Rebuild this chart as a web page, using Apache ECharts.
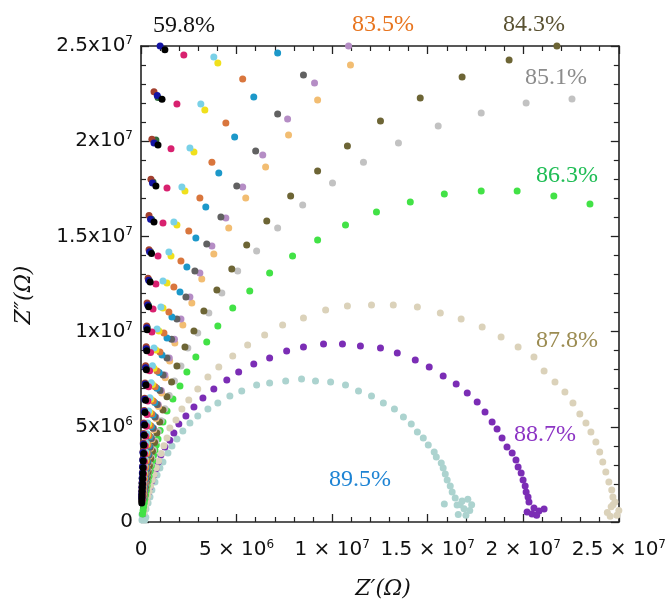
<!DOCTYPE html>
<html>
<head>
<meta charset="utf-8">
<script src="https://cdn.jsdelivr.net/npm/echarts@6/dist/echarts.min.js"></script>
<style>
html,body{margin:0;padding:0;background:#fff;}
#chart{width:669px;height:601px;}
</style>
</head>
<body>
<div id="chart"></div>
<script>
// Values in units of 1e6 Ohm: [Z', Z'']
const xTickLabels = [['0',''],['5 × 10','6'],['1 × 10','7'],['1.5 × 10','7'],['2 × 10','7'],['2.5 × 10','7']];
const yTickLabels = [['0',''],['5x10','6'],['1x10','7'],['1.5x10','7'],['2x10','7'],['2.5x10','7']];
const pctLabels = ['59.8%','83.5%','84.3%','85.1%','86.3%','87.8%','88.7%','89.5%'];

const sBlack = [[1.25,24.8],[1.1,22.2],[0.89,19.8],[0.78,17.65],[0.68,15.75],[0.55,14.1],[0.48,12.6],[0.4,11.3],[0.32,10.1],[0.3,9.0],[0.28,8.0],[0.26,7.2],[0.24,6.4],[0.21,5.75],[0.19,5.1],[0.17,4.55],[0.15,4.05],[0.14,3.6],[0.12,3.2],[0.11,2.85],[0.1,2.55],[0.09,2.27],[0.08,2.0],[0.07,1.8],[0.06,1.6],[0.05,1.42],[0.05,1.27],[0.04,1.13],[0.04,1.0]];
const sDarkBlue = [[1.0,25.0],[0.85,22.4],[0.68,19.9],[0.6,17.8],[0.5,15.9],[0.45,14.2],[0.4,12.7],[0.35,11.4],[0.3,10.2],[0.27,9.1],[0.24,8.1],[0.21,7.25],[0.19,6.45],[0.17,5.8],[0.15,5.15],[0.13,4.6],[0.12,4.1],[0.1,3.65],[0.09,3.25],[0.08,2.9],[0.07,2.58],[0.06,2.3],[0.06,2.03],[0.05,1.82],[0.05,1.62],[0.04,1.44],[0.04,1.28]];
const sDarkRed = [[0.68,22.6],[0.57,20.1],[0.52,18.0],[0.42,16.1],[0.42,14.3],[0.37,12.8],[0.32,11.5],[0.3,10.3],[0.27,9.2],[0.24,8.2],[0.21,7.3],[0.19,6.5],[0.17,5.85],[0.15,5.2],[0.14,4.65],[0.12,4.15],[0.11,3.7],[0.1,3.3],[0.09,2.93],[0.08,2.6],[0.07,2.33],[0.06,2.07],[0.05,1.85],[0.05,1.65],[0.04,1.47],[0.04,1.3]];
const sDarkGreen = [[0.89,22.3],[0.78,20.06],[0.63,17.86],[0.55,15.9],[0.5,14.2],[0.43,12.7],[0.38,11.4],[0.33,10.2],[0.3,9.1],[0.27,8.1],[0.24,7.25],[0.21,6.45],[0.19,5.8],[0.17,5.15],[0.15,4.6],[0.13,4.1],[0.12,3.65],[0.1,3.25],[0.09,2.9],[0.08,2.58],[0.07,2.3],[0.06,2.04],[0.06,1.82],[0.05,1.62],[0.05,1.44],[0.04,1.28]];
const sPink = [[2.24,24.53],[1.88,21.95],[1.57,19.6],[1.36,17.54],[1.15,15.7],[0.89,13.97],[0.78,12.5],[0.63,11.19],[0.57,9.98],[0.5,8.9],[0.45,7.95],[0.4,7.1],[0.36,6.35],[0.32,5.65],[0.28,5.03],[0.25,4.5],[0.22,4.0],[0.2,3.57],[0.18,3.18],[0.16,2.83],[0.14,2.52],[0.12,2.25],[0.11,2.0],[0.1,1.78],[0.09,1.59],[0.08,1.41],[0.07,1.26],[0.06,1.12]];
const sLightCyan = [[3.81,24.42],[3.13,21.95],[2.56,19.64],[2.14,17.6],[1.72,15.76],[1.46,14.18],[1.15,12.66],[1.04,11.29],[0.84,10.14],[0.68,9.14],[0.6,8.2],[0.53,7.32],[0.46,6.53],[0.4,5.83],[0.35,5.2],[0.31,4.63],[0.27,4.13],[0.24,3.68],[0.21,3.28],[0.18,2.92],[0.16,2.6],[0.14,2.32],[0.12,2.06],[0.11,1.84],[0.1,1.64],[0.09,1.46],[0.08,1.3]];
const sYellow = [[4.02,24.11],[3.34,21.64],[2.77,19.43],[2.3,17.38],[1.88,15.6],[1.57,13.97],[1.36,12.55],[1.15,11.24],[0.94,10.03],[0.78,9.03],[0.68,8.08],[0.6,7.22],[0.52,6.45],[0.46,5.76],[0.4,5.14],[0.35,4.58],[0.31,4.08],[0.27,3.64],[0.24,3.24],[0.21,2.89],[0.18,2.58],[0.16,2.3],[0.14,2.05],[0.12,1.83],[0.11,1.63],[0.1,1.45],[0.09,1.29]];
const sOrange = [[5.32,23.27],[4.44,20.96],[3.71,18.9],[3.08,17.02],[2.5,15.28],[2.09,13.71],[1.72,12.34],[1.46,11.03],[1.2,9.93],[0.99,8.93],[0.84,7.93],[0.74,7.1],[0.64,6.35],[0.56,5.68],[0.49,5.07],[0.43,4.53],[0.37,4.04],[0.33,3.6],[0.29,3.21],[0.25,2.86],[0.22,2.55],[0.19,2.27],[0.17,2.02],[0.15,1.8],[0.13,1.6],[0.12,1.43],[0.1,1.27]];
const sTealBlue = [[7.15,24.63],[5.9,22.32],[4.9,20.22],[4.07,18.33],[3.39,16.54],[2.87,14.92],[2.4,13.39],[2.04,12.08],[1.62,10.77],[1.36,9.66],[1.1,8.77],[0.95,7.85],[0.83,7.02],[0.72,6.28],[0.63,5.62],[0.55,5.02],[0.48,4.48],[0.42,4.0],[0.37,3.57],[0.32,3.18],[0.28,2.84],[0.25,2.53],[0.22,2.26],[0.19,2.01],[0.17,1.79],[0.15,1.6],[0.13,1.42],[0.12,1.27]];
const sDarkGray = [[8.5,23.48],[7.15,21.43],[6.0,19.49],[5.01,17.65],[4.18,16.02],[3.44,14.6],[2.82,13.18],[2.35,11.82],[1.88,10.66],[1.6,9.6],[1.36,8.62],[1.16,7.72],[0.99,6.9],[0.85,6.17],[0.73,5.51],[0.63,4.92],[0.54,4.39],[0.47,3.92],[0.41,3.5],[0.35,3.12],[0.31,2.78],[0.27,2.48],[0.23,2.21],[0.2,1.97],[0.18,1.76],[0.16,1.57],[0.14,1.4],[0.12,1.25]];
const sLavender = [[10.86,25.0],[9.08,23.06],[7.67,21.17],[6.37,19.28],[5.32,17.6],[4.44,15.97],[3.71,14.5],[3.08,13.08],[2.56,11.82],[2.09,10.66],[1.75,9.6],[1.48,8.62],[1.25,7.72],[1.06,6.9],[0.9,6.17],[0.77,5.51],[0.66,4.92],[0.56,4.39],[0.48,3.92],[0.42,3.5],[0.36,3.12],[0.31,2.78],[0.27,2.48],[0.24,2.21],[0.21,1.97],[0.18,1.76],[0.16,1.57],[0.14,1.4]];
const sLightOrange = [[10.96,24.0],[9.24,22.16],[7.72,20.33],[6.52,18.64],[5.48,17.02],[4.59,15.44],[3.81,14.08],[3.18,12.76],[2.66,11.5],[2.19,10.35],[1.77,9.4],[1.5,8.45],[1.27,7.58],[1.08,6.78],[0.92,6.07],[0.79,5.43],[0.67,4.85],[0.58,4.33],[0.5,3.87],[0.43,3.45],[0.37,3.08],[0.32,2.75],[0.28,2.45],[0.24,2.18],[0.21,1.95],[0.18,1.74],[0.16,1.55],[0.14,1.38]];
const sOlive = [[21.76,25.0],[19.26,24.26],[16.8,23.37],[14.61,22.27],[12.53,21.06],[10.8,19.75],[9.24,18.43],[7.83,17.12],[6.58,15.81],[5.53,14.55],[4.75,13.29],[3.97,12.18],[3.29,11.08],[2.77,10.03],[2.3,9.19],[1.88,8.19],[1.6,7.35],[1.36,6.58],[1.15,5.88],[0.98,5.25],[0.83,4.68],[0.71,4.17],[0.6,3.72],[0.51,3.32],[0.44,2.96],[0.38,2.64],[0.33,2.35],[0.28,2.1],[0.24,1.87],[0.21,1.67],[0.18,1.49],[0.16,1.33]];
const sLightGray = [[22.55,22.22],[20.15,22.0],[17.8,21.48],[15.55,20.8],[13.47,19.9],[11.64,18.9],[10.02,17.8],[8.46,16.65],[7.15,15.44],[6.05,14.23],[5.06,13.18],[4.23,12.03],[3.55,10.98],[2.97,9.93],[2.45,9.14],[2.09,8.19],[1.75,7.4],[1.48,6.65],[1.25,5.95],[1.06,5.32],[0.9,4.75],[0.77,4.24],[0.66,3.78],[0.56,3.37],[0.48,3.0],[0.41,2.68],[0.35,2.39],[0.3,2.13],[0.26,1.9],[0.22,1.69],[0.19,1.51],[0.17,1.35]];
const sGreen = [[23.49,16.7],[21.6,17.12],[19.68,17.38],[17.8,17.38],[15.87,17.23],[14.09,16.81],[12.32,16.28],[10.7,15.6],[9.24,14.81],[7.93,13.97],[6.73,13.08],[5.69,12.13],[4.8,11.24],[4.02,10.29],[3.44,9.45],[2.87,8.67],[2.4,7.88],[2.04,7.14],[1.67,6.46],[1.36,5.83],[1.15,5.25],[1.0,4.8],[0.89,4.36],[0.8,4.05],[0.73,3.78],[0.66,3.5],[0.6,3.22],[0.54,2.95],[0.48,2.68],[0.42,2.4],[0.37,2.15],[0.32,1.9],[0.28,1.65],[0.24,1.42],[0.2,1.2],[0.17,1.0],[0.14,0.8],[0.11,0.6],[0.08,0.42]];
const sTan = [[24.8,1.05],[24.69,1.31],[24.63,1.68],[24.48,2.1],[24.32,2.63],[24.16,3.15],[24.0,3.68],[23.8,4.2],[23.54,4.73],[23.28,5.2],[22.96,5.67],[22.6,6.25],[22.18,6.83],[21.66,7.35],[21.09,7.93],[20.56,8.67],[19.73,9.19],[18.84,9.72],[17.85,10.24],[16.75,10.66],[15.66,10.98],[14.46,11.29],[13.2,11.4],[12.06,11.4],[10.8,11.34],[9.66,11.13],[8.5,10.71],[7.41,10.35],[6.47,9.82],[5.58,9.3],[4.8,8.72],[4.07,8.14],[3.5,7.62],[2.97,6.99],[2.5,6.41],[2.14,5.93],[1.83,5.36],[1.51,4.94],[1.36,4.41],[1.2,4.0],[1.05,3.6],[0.92,3.2],[0.8,2.85],[0.68,2.5],[0.58,2.2],[0.5,1.9],[0.42,1.6],[0.35,1.35],[0.3,1.1],[0.24,0.9],[0.2,0.7],[0.15,0.5],[24.6,0.8],[25.0,0.6],[24.4,0.5],[24.9,0.35],[24.7,0.9],[24.55,0.3]];
const sPurple = [[20.3,1.05],[20.25,1.31],[20.15,1.58],[20.1,1.89],[19.99,2.21],[19.89,2.57],[19.73,2.89],[19.62,3.26],[19.42,3.62],[19.15,3.94],[18.89,4.41],[18.63,4.88],[18.37,5.25],[18.0,5.78],[17.59,6.3],[17.07,6.78],[16.49,7.25],[15.81,7.67],[15.08,8.14],[14.35,8.51],[13.41,8.88],[12.53,9.14],[11.48,9.24],[10.54,9.35],[9.55,9.35],[8.5,9.19],[7.62,8.98],[6.73,8.61],[5.9,8.3],[5.11,7.88],[4.49,7.46],[3.81,6.99],[3.24,6.51],[2.77,6.04],[2.35,5.57],[1.98,5.15],[1.72,4.67],[1.51,4.3],[1.25,3.94],[1.04,3.52],[0.9,3.15],[0.78,2.8],[0.66,2.45],[0.56,2.15],[0.47,1.85],[0.4,1.58],[0.33,1.35],[0.27,1.13],[0.22,0.93],[0.17,0.75],[0.13,0.58],[0.1,0.43],[20.56,0.74],[20.82,0.58],[20.2,0.53],[20.46,0.42],[21.09,0.68],[20.7,0.35]];
const sLightTeal = [[16.54,0.89],[16.44,1.26],[16.28,1.58],[16.18,1.89],[16.02,2.21],[15.92,2.52],[15.81,2.84],[15.71,3.1],[15.45,3.41],[15.34,3.68],[15.03,4.04],[14.77,4.41],[14.46,4.73],[14.14,5.15],[13.73,5.51],[13.26,5.93],[12.68,6.25],[12.06,6.62],[11.38,6.88],[10.7,7.2],[9.92,7.35],[9.13,7.41],[8.4,7.51],[7.57,7.41],[6.73,7.3],[6.05,7.2],[5.27,6.88],[4.65,6.62],[4.02,6.25],[3.5,5.93],[2.97,5.57],[2.56,5.2],[2.19,4.78],[1.88,4.36],[1.62,3.99],[1.41,3.62],[1.15,3.15],[0.99,2.84],[0.84,2.47],[0.73,2.1],[0.57,1.68],[0.47,1.31],[0.37,1.0],[0.26,0.68],[0.16,0.42],[0.1,0.2],[0.05,0.1],[0.2,0.1],[0.15,0.3],[0.05,0.4],[0.25,0.25],[16.7,0.9],[16.9,0.7],[17.2,0.6],[17.3,0.9],[16.6,0.4],[17.0,0.35],[16.8,1.1],[17.1,1.2],[15.87,0.95]];

// draw order: first drawn = bottom
const seriesDefs = [
  {data: sLightTeal, color: '#acd3cf'},
  {data: sPurple, color: '#7b2db5'},
  {data: sTan, color: '#dbd2ba'},
  {data: sGreen, color: '#42e246'},
  {data: sLightGray, color: '#c2c2c2'},
  {data: sOlive, color: '#6d6535'},
  {data: sLightOrange, color: '#f2bd72'},
  {data: sLavender, color: '#b58dc5'},
  {data: sDarkGray, color: '#616161'},
  {data: sTealBlue, color: '#1c98c9'},
  {data: sOrange, color: '#d9763d'},
  {data: sYellow, color: '#f0e01c'},
  {data: sLightCyan, color: '#7ad1e7'},
  {data: sPink, color: '#d8216f'},
  {data: sDarkGreen, color: '#2e6b3c'},
  {data: sDarkRed, color: '#a2402e'},
  {data: sDarkBlue, color: '#1414a4'},
  {data: sBlack, color: '#000000'}
];

function tickFmt(labels) {
  return function (v) {
    const i = Math.round(v / 5);
    const p = labels[i];
    if (!p) return '';
    return p[1] ? '{m|' + p[0] + '}{e|' + p[1] + '}' : '{m|' + p[0] + '}';
  };
}
const richTick = {
  m: {fontFamily: 'DejaVu Sans', fontSize: 20, lineHeight: 22, color: '#111'},
  e: {fontFamily: 'DejaVu Sans', fontSize: 12, lineHeight: 12, verticalAlign: 'top', color: '#111'}
};

const axisCommon = {
  type: 'value', min: 0, max: 25, interval: 5,
  axisLine: {show: true, onZero: false, lineStyle: {color: '#222', width: 1.6}},
  axisTick: {show: true, inside: true, length: 8, lineStyle: {color: '#222', width: 1.3}},
  minorTick: {show: true, splitNumber: 5, length: 5, lineStyle: {color: '#222', width: 1.2}},
  splitLine: {show: false}, minorSplitLine: {show: false}
};

const chart = echarts.init(document.getElementById('chart'), null, {renderer: 'canvas'});
const option = {
  animation: false,
  backgroundColor: '#fff',
  grid: {left: 141, right: 49, top: 46, bottom: 79},
  xAxis: [
    Object.assign({}, axisCommon, {position: 'bottom',
      axisLabel: {margin: 17, formatter: tickFmt(xTickLabels), rich: richTick}}),
    Object.assign({}, axisCommon, {position: 'top', axisLabel: {show: false}})
  ],
  yAxis: [
    Object.assign({}, axisCommon, {position: 'left',
      axisLabel: {margin: 8, formatter: tickFmt(yTickLabels), rich: richTick}}),
    Object.assign({}, axisCommon, {position: 'right', axisLabel: {show: false}})
  ],
  series: seriesDefs.map(function (d) {
    return {type: 'scatter', data: d.data, symbol: 'circle', symbolSize: 7,
      itemStyle: {color: d.color, opacity: 1}, clip: false, silent: true};
  }),
  graphic: [
    {type: 'text', x: 184, y: 26, style: {text: pctLabels[0], fill: '#111', font: '24px "Liberation Serif"', align: 'center', verticalAlign: 'middle'}},
    {type: 'text', x: 383, y: 25, style: {text: pctLabels[1], fill: '#e8751f', font: '24px "Liberation Serif"', align: 'center', verticalAlign: 'middle'}},
    {type: 'text', x: 534, y: 25, style: {text: pctLabels[2], fill: '#5a5232', font: '24px "Liberation Serif"', align: 'center', verticalAlign: 'middle'}},
    {type: 'text', x: 556, y: 78, style: {text: pctLabels[3], fill: '#8c8c8c', font: '24px "Liberation Serif"', align: 'center', verticalAlign: 'middle'}},
    {type: 'text', x: 567, y: 176, style: {text: pctLabels[4], fill: '#1fbd55', font: '24px "Liberation Serif"', align: 'center', verticalAlign: 'middle'}},
    {type: 'text', x: 567, y: 341, style: {text: pctLabels[5], fill: '#9c8c52', font: '24px "Liberation Serif"', align: 'center', verticalAlign: 'middle'}},
    {type: 'text', x: 545, y: 435, style: {text: pctLabels[6], fill: '#8c34c4', font: '24px "Liberation Serif"', align: 'center', verticalAlign: 'middle'}},
    {type: 'text', x: 360, y: 480, style: {text: pctLabels[7], fill: '#1e84d4', font: '24px "Liberation Serif"', align: 'center', verticalAlign: 'middle'}},
    {type: 'text', x: 383, y: 589, style: {text: 'Z′(Ω)', fill: '#111', font: 'italic 22px "DejaVu Serif"', align: 'center', verticalAlign: 'middle'}},
    {type: 'text', x: 24, y: 295, rotation: Math.PI / 2, style: {text: 'Z″(Ω)', fill: '#111', font: 'italic 22px "DejaVu Serif"', align: 'center', verticalAlign: 'middle'}}
  ]
};
chart.setOption(option);
</script>
</body>
</html>
